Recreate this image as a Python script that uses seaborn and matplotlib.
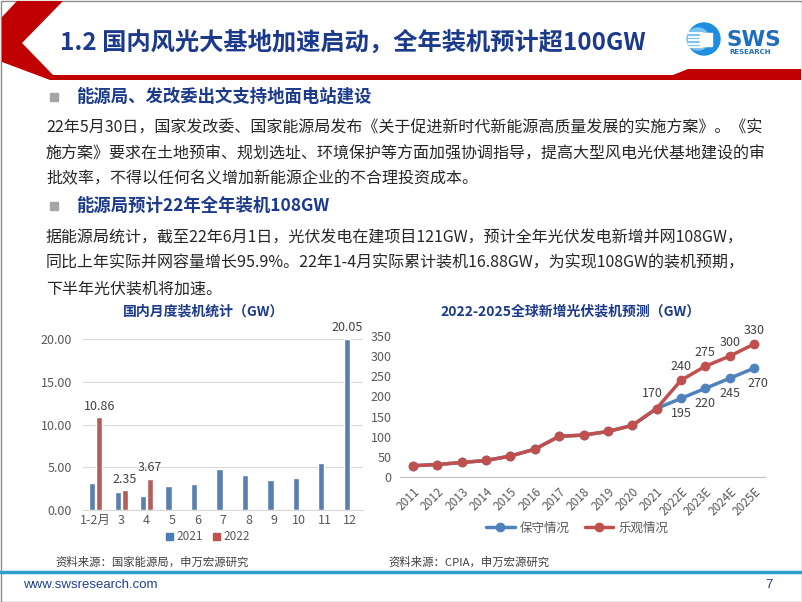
import numpy as np
import pandas as pd
import matplotlib
matplotlib.use('Agg')
import matplotlib.pyplot as plt
import seaborn as sns
from matplotlib.patches import Polygon, Rectangle, Circle
from matplotlib.lines import Line2D

# ---------------- data ----------------
months = ['1-2月', '3', '4', '5', '6', '7', '8', '9', '10', '11', '12']
vals_2021 = [3.15, 2.06, 1.64, 2.78, 3.01, 4.83, 4.06, 3.47, 3.70, 5.55, 20.05]
vals_2022 = [10.86, 2.35, 3.67]
bar_years = ['2021', '2022']

years = ['2011', '2012', '2013', '2014', '2015', '2016', '2017', '2018', '2019',
         '2020', '2021', '2022E', '2023E', '2024E', '2025E']
conservative = [28, 31, 36, 41, 52, 69, 101, 104, 113, 128, 170, 195, 220, 245, 270]
optimistic = [28, 31, 36, 41, 52, 69, 101, 104, 113, 128, 170, 240, 275, 300, 330]
scenarios = ['保守情况', '乐观情况']

title = '1.2 国内风光大基地加速启动，全年装机预计超100GW'
head1 = '能源局、发改委出文支持地面电站建设'
para1 = ['22年5月30日，国家发改委、国家能源局发布《关于促进新时代新能源高质量发展的实施方案》。《实',
         '施方案》要求在土地预审、规划选址、环境保护等方面加强协调指导，提高大型风电光伏基地建设的审',
         '批效率，不得以任何名义增加新能源企业的不合理投资成本。']
head2 = '能源局预计22年全年装机108GW'
para2 = ['据能源局统计，截至22年6月1日，光伏发电在建项目121GW，预计全年光伏发电新增并网108GW，',
         '同比上年实际并网容量增长95.9%。22年1-4月实际累计装机16.88GW，为实现108GW的装机预期，',
         '下半年光伏装机将加速。']
chart1_title = '国内月度装机统计（GW）'
chart2_title = '2022-2025全球新增光伏装机预测（GW）'
src1 = '资料来源：国家能源局，申万宏源研究'
src2 = '资料来源：CPIA，申万宏源研究'

# ---------------- style ----------------
sns.set_style('white')
plt.rcParams['font.family'] = ['Noto Sans CJK SC', 'DejaVu Sans']
plt.rcParams['axes.unicode_minus'] = False

W, H = 802, 602
fig = plt.figure(figsize=(8.02, 6.02), dpi=100)
fig.patch.set_facecolor('white')

def X(px):
    return px / W

def Y(py):
    return 1 - py / H

NAVY = '#1B3A8C'
BLUE = '#4A7EBB'
RED = '#C0504D'
GRAY = '#595959'

# slide border
fig.add_artist(Rectangle((X(0.5), Y(601.5)), 801 / W, 601 / H, fill=False,
                         edgecolor='#8C8C8C', lw=1, transform=fig.transFigure))

# red chevron + band
pts = [(2, 17), (17, 1), (63, 1), (22, 43), (53, 75), (673, 75), (688, 69),
       (801, 69), (801, 80), (50, 80), (2, 62)]
fig.add_artist(Polygon([(X(a), Y(b)) for a, b in pts], closed=True,
                       facecolor='#C00000', edgecolor='none', transform=fig.transFigure))

# title
fig.text(X(60), Y(43), title, fontsize=17.5, fontweight='bold', color=NAVY,
         va='center', ha='left')

# logo
axl = fig.add_axes([X(684), Y(57), 40 / W, 36 / H])
axl.set_xlim(0, 40)
axl.set_ylim(0, 36)
axl.set_aspect('equal')
axl.axis('off')
axl.add_patch(Circle((20, 18), 16, color='#1F8EE0'))
axl.add_patch(Circle((14, 18), 11, color='#7CC4F2'))
for yy in [10, 13.5, 17, 20.5, 24]:
    axl.plot([4, 19], [yy, yy], color='white', lw=1.3, solid_capstyle='butt')
axl.add_patch(Rectangle((16, 11.5), 12, 13, color='white'))
fig.text(X(727), Y(40), 'SWS', fontsize=15.5, fontweight='bold', color='#1E6EC0',
         family=['DejaVu Sans'], va='center', ha='left')
fig.text(X(729), Y(52.5), 'RESEARCH', fontsize=5, fontweight='bold', color='#1E6EC0',
         family=['DejaVu Sans'], va='center', ha='left')

# bullets + text
for yy, head in [(97, head1), (206, head2)]:
    fig.add_artist(Rectangle((X(50), Y(yy + 4)), 8 / W, 8 / H, color='#A6A6A6',
                             transform=fig.transFigure))
    fig.text(X(76), Y(yy), head, fontsize=12.5, fontweight='bold', color=NAVY,
             va='center', ha='left')
for yy, line in zip([128, 154, 179], para1):
    fig.text(X(46), Y(yy), line, fontsize=11.5, color='#262626', va='center', ha='left')
for yy, line in zip([238, 263, 289], para2):
    fig.text(X(46), Y(yy), line, fontsize=11.5, color='#262626', va='center', ha='left')

# ---------------- left chart ----------------
rows = []
for m, v in zip(months, vals_2021):
    rows.append({'month': m, 'year': '2021', 'value': v})
for m, v in zip(months, vals_2022):
    rows.append({'month': m, 'year': '2022', 'value': v})
df1 = pd.DataFrame(rows)

ax1 = fig.add_axes([X(83), Y(510), 280 / W, (510 - 339) / H])
sns.barplot(data=df1, x='month', y='value', hue='year', order=months,
            hue_order=bar_years, palette=[BLUE, RED], width=0.55, gap=0.1,
            errorbar=None, legend=False, ax=ax1)
ax1.set_xlim(-0.5, 10.5)
ax1.set_ylim(0, 20)
ax1.set_yticks([0, 5, 10, 15, 20])
ax1.set_yticklabels(['0.00', '5.00', '10.00', '15.00', '20.00'])
ax1.set_xlabel('')
ax1.set_ylabel('')
ax1.grid(axis='y', color='#D9D9D9', lw=0.8)
ax1.set_axisbelow(True)
for s in ['top', 'right', 'left']:
    ax1.spines[s].set_visible(False)
ax1.spines['bottom'].set_color('#D9D9D9')
ax1.tick_params(axis='both', length=0, labelsize=9, colors=GRAY)
ax1.tick_params(axis='y', pad=8)
ax1.tick_params(axis='x', pad=3)
ax1.patch.set_alpha(0)
c2021, c2022 = ax1.containers[0], ax1.containers[1]
ax1.bar_label(c2022, fmt='%.2f', padding=3, fontsize=9, color='#404040')
ax1.bar_label(c2021, labels=[''] * (len(vals_2021) - 1) + ['%.2f' % vals_2021[-1]],
              padding=3, fontsize=9, color='#404040')
for t in ax1.texts:
    t.set_clip_on(False)

fig.text(X(204), Y(311), chart1_title, fontsize=10, fontweight='bold', color=NAVY,
         ha='center', va='center')
h1 = [Rectangle((0, 0), 1, 1, color=BLUE), Rectangle((0, 0), 1, 1, color=RED)]
leg1 = fig.legend(h1, bar_years, loc='center', bbox_to_anchor=(X(208), Y(537)),
                  ncol=2, frameon=False, fontsize=8.5, handlelength=0.6,
                  handleheight=0.6, handletextpad=0.3, columnspacing=0.9,
                  borderpad=0.1)
for t in leg1.get_texts():
    t.set_color(GRAY)

# ---------------- right chart ----------------
rows = []
for i, (c, o) in enumerate(zip(conservative, optimistic)):
    rows.append({'idx': i, 'value': c, 'scenario': scenarios[0]})
    rows.append({'idx': i, 'value': o, 'scenario': scenarios[1]})
df2 = pd.DataFrame(rows)

ax2 = fig.add_axes([X(400), Y(477), 365 / W, (477 - 336) / H])
sns.lineplot(data=df2, x='idx', y='value', hue='scenario', hue_order=scenarios,
             palette=['#4F81BD', RED], marker='o', markersize=7, markeredgewidth=0,
             linewidth=2.5, legend=False, ax=ax2)
ax2.set_xlim(-0.534, 14.45)
ax2.set_ylim(0, 350)
ax2.set_yticks(range(0, 351, 50))
ax2.set_xticks(range(len(years)))
ax2.set_xticklabels(years, rotation=45, ha='right', rotation_mode='anchor')
ax2.set_xlabel('')
ax2.set_ylabel('')
for s in ['top', 'right', 'left']:
    ax2.spines[s].set_visible(False)
ax2.spines['bottom'].set_color('#BFBFBF')
ax2.tick_params(axis='both', length=0, labelsize=9, colors=GRAY)
ax2.tick_params(axis='x', labelsize=8.5, pad=6)
ax2.tick_params(axis='y', pad=6)
ax2.patch.set_alpha(0)

lab_kw = dict(fontsize=9, color='#404040', ha='center', va='center',
              textcoords='offset points', annotation_clip=False)
ax2.annotate(str(optimistic[10]), (10, optimistic[10]), xytext=(-3, 11), **lab_kw)
for i in range(11, 15):
    ax2.annotate(str(optimistic[i]), (i, optimistic[i]), xytext=(0, 10), **lab_kw)
    dx = 3 if i == 14 else 0
    ax2.annotate(str(conservative[i]), (i, conservative[i]), xytext=(dx, -11), **lab_kw)

fig.text(X(571), Y(311), chart2_title, fontsize=10, fontweight='bold', color=NAVY,
         ha='center', va='center')
h2 = [Line2D([0], [0], color='#4F81BD', lw=2.5, marker='o', ms=6),
      Line2D([0], [0], color=RED, lw=2.5, marker='o', ms=6)]
leg2 = fig.legend(h2, scenarios, loc='center', bbox_to_anchor=(X(577), Y(528)),
                  ncol=2, frameon=False, fontsize=9, handlelength=2.3,
                  handletextpad=0.4, columnspacing=1.2)
for t in leg2.get_texts():
    t.set_color(GRAY)

# ---------------- footer ----------------
fig.text(X(55), Y(562), src1, fontsize=8.2, color='#404040', va='center', ha='left')
fig.text(X(388), Y(562), src2, fontsize=8.2, color='#404040', va='center', ha='left')
fig.add_artist(Line2D([0, 1], [Y(572), Y(572)], color='#2EA0C8', lw=2.5,
                      transform=fig.transFigure))
fig.text(X(23), Y(585), 'www.swsresearch.com', fontsize=9.5, color='#1F3F8F',
         family=['Liberation Sans', 'DejaVu Sans'], va='center', ha='left')
fig.text(X(765), Y(585), '7', fontsize=9.5, color='#1F3F8F',
         family=['Liberation Sans', 'DejaVu Sans'], va='center', ha='left')

fig.savefig('out.png', dpi=100)
